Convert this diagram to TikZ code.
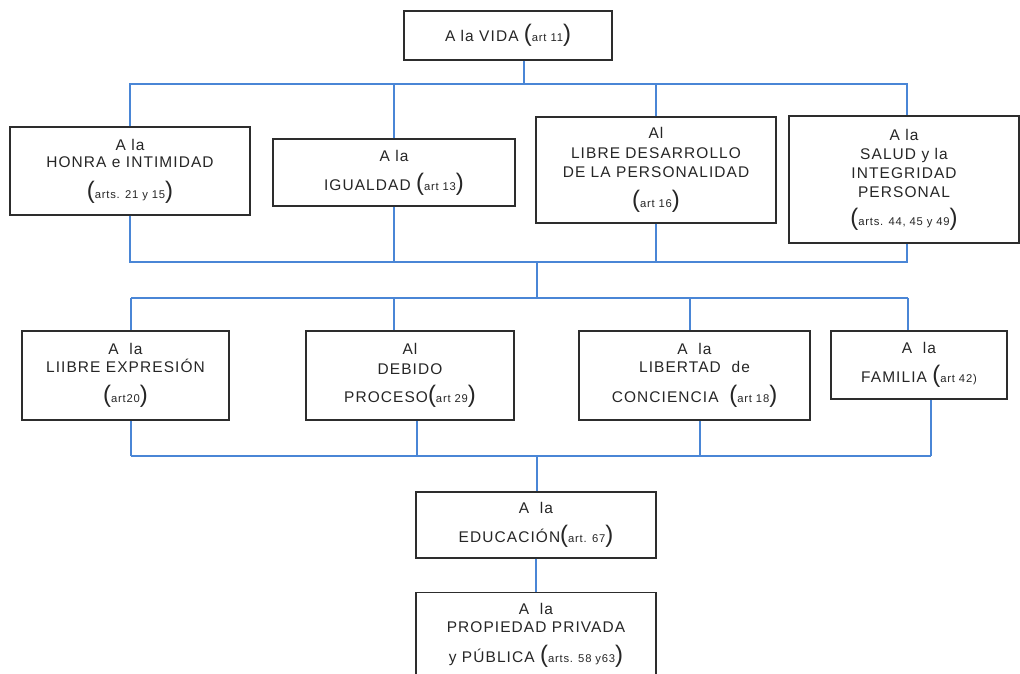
\documentclass[tikz,border=0pt]{standalone}
\usepackage{fontspec}
\setmainfont{Liberation Sans}
\newfontfamily\boxfont[LetterSpace=7]{Liberation Sans}
\usetikzlibrary{positioning}
\usepackage[dvipsnames]{xcolor}

\definecolor{linkblue}{RGB}{74,134,214}
\definecolor{boxgray}{RGB}{45,45,45}

\newcommand{\bigpar}[1]{{\fontsize{17}{17}\selectfont #1}}
\newcommand{\art}[1]{\bigpar{(}{\fontsize{8}{9}\selectfont #1}\bigpar{)}}
\newcommand{\artopen}[1]{\bigpar{(}{\fontsize{8}{9}\selectfont #1}}

\tikzset{
  right/.style 2 args={draw=boxgray, line width=1pt, fill=white, align=center,
    text=black!85, font=\boxfont\fontsize{11}{12.5}\selectfont, inner sep=1pt,
    minimum width=#1*0.025cm, minimum height=#2*0.025cm},
  link/.style={draw=linkblue, line width=1.1pt}
}

\begin{document}
\begin{tikzpicture}[x=0.025cm, y=-0.025cm]
            \clip (0,0) rectangle (1020,674);
            \fill[white] (0,0) rectangle (1020,674);

            \node[right={208}{49}](vida)      at (508,35.5)  {A la VIDA \art{art 11}};

            \node[right={240}{88}](honra)     at (130,171)   {A la\\HONRA e INTIMIDAD\\[9pt]\art{arts. 21 y 15}};
            \node[right={242}{67}](igualdad)  at (394,172.5) {A la\\[8pt]IGUALDAD \art{art 13}};
            \node[right={240}{106}](libre)    at (656,170)   {Al\\[1.5pt]LIBRE DESARROLLO\\[1.5pt]DE LA PERSONALIDAD\\[9pt]\art{art 16}};
            \node[right={230}{127}](salud)    at (904,179.5) {A la\\[1.5pt]SALUD y la\\[1pt]INTEGRIDAD\\[1pt]PERSONAL\\[7pt]\art{arts. 44, 45 y 49}};

            \node[right={207}{89}](expresion) at (125.5,375.5) {A\ \ la\\LIIBRE EXPRESI\'ON\\[9pt]\art{art20}};
            \node[right={208}{89}](debido)    at (410,375.5)   {Al\\[1.5pt]DEBIDO\\[8pt]PROCESO\art{art 29}};
            \node[right={231}{89}](libertad)  at (694.5,375.5) {A\ \ la\\LIBERTAD\ \ de\\[9pt]CONCIENCIA\ \ \art{art 18}};
            \node[right={176}{68}](familia)   at (919,365)     {A\ \ la\\[8pt]FAMILIA \artopen{art 42)}};

            \node[right={240}{66}](educacion) at (536,525)     {A\ \ la\\[8pt]EDUCACI\'ON\art{art. 67}};
            \node[right={240}{92}, anchor=north](propiedad) at (536,592)
                {A\ \ la\\PROPIEDAD PRIVADA\\[9pt]y P\'UBLICA \art{arts. 58 y63}\\[-4pt]\mbox{}};

            % bus points
            \coordinate (top)  at (524,84);
            \coordinate (up1)  at (907,84);
            \coordinate (mid1) at (537,262);
            \coordinate (mid2) at (537,298);
            \coordinate (low1) at (537,456);
            \coordinate (r2a)  at (131,298);
            \coordinate (r2b)  at (394,298);
            \coordinate (r2c)  at (690,298);
            \coordinate (r2d)  at (908,298);
            \coordinate (d2a)  at (131,456);
            \coordinate (d2b)  at (417,456);
            \coordinate (d2c)  at (700,456);
            \coordinate (d2d)  at (931,456);

            \path[link]
                (vida.south -| top) -- (top)
                (honra.north) |- (up1) -- (up1 |- salud.north)
                (igualdad.north) -- (igualdad.north |- top)
                (libre.north) -- (libre.north |- top)
                (honra.south) |- (mid1 -| up1) -- (up1 |- salud.south)
                (igualdad.south) -- (igualdad.south |- mid1)
                (libre.south) -- (libre.south |- mid1)
                (mid1) -- (mid2)
                (r2a) -- (r2d)
                (r2a) -- (r2a |- expresion.north)
                (r2b) -- (r2b |- debido.north)
                (r2c) -- (r2c |- libertad.north)
                (r2d) -- (r2d |- familia.north)
                (d2a) -- (d2d)
                (d2a) -- (d2a |- expresion.south)
                (d2b) -- (d2b |- debido.south)
                (d2c) -- (d2c |- libertad.south)
                (d2d) -- (d2d |- familia.south)
                (low1) -- (low1 |- educacion.north)
                (educacion.south) -- (propiedad.north)
                ;
        \end{tikzpicture}
\end{document}
